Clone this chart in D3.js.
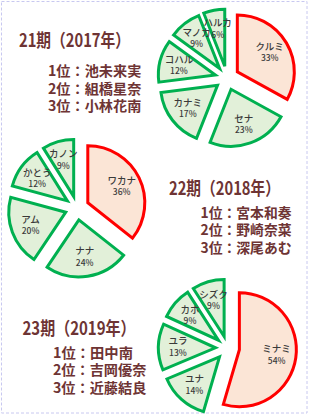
<!DOCTYPE html>
<html>
<head>
<meta charset="utf-8">
<script src="https://cdn.jsdelivr.net/npm/d3@7"></script>
<style>
  body { margin: 0; background: #fff; }
  svg { display: block; }
</style>
</head>
<body>
<svg class="Chart"></svg>
<script>
// members per generation, clockwise from 12 o'clock
let names21 = ["クルミ", "セナ", "カナミ", "コハル", "マノカ", "ハルカ"],
    vals21  = [33, 23, 17, 12, 9, 6];
let names22 = ["ワカナ", "ナナ", "アム", "かとう", "カノン"],
    vals22  = [36, 24, 20, 12, 9];
let names23 = ["ミナミ", "ユナ", "ユラ", "カホ", "シズク"],
    vals23  = [54, 14, 13, 9, 9];

let titles = ["21期（2017年）", "22期（2018年）", "23期（2019年）"];
let ranks = [
    ["1位：池未来実", "2位：組橋星奈", "3位：小林花南"],
    ["1位：宮本和奏", "2位：野崎奈菜", "3位：深尾あむ"],
    ["1位：田中南", "2位：吉岡優奈", "3位：近藤結良"]
];

function ChartInit(){
    let width = 310, height = 418;
    let svg = d3.select(".Chart")
        .attr("width", width)
        .attr("height", height);
    svg.append("rect")
        .attr("x", 1.5).attr("y", 1.5)
        .attr("width", 305.5).attr("height", 411.5)
        .style("fill", "none")
        .style("stroke", "#c8c8f0")
        .style("stroke-width", 1)
        .style("stroke-dasharray", "3,2");
    return svg;
}

function drawPie(svg, names, vals, cx, cy){
    let r = 57, gap = 12;
    let pie = d3.pie().sort(null).value(d => d)(vals);
    let arc = d3.arc().innerRadius(0).outerRadius(r);
    let g = svg.append("g").attr("transform", "translate(" + cx + "," + cy + ")");

    let slice = g.selectAll(".slice")
        .data(pie)
        .join("g")
        .attr("class", "slice")
        .attr("transform", function(d) {
            let a = (d.startAngle + d.endAngle) / 2;
            return "translate(" + (Math.sin(a) * gap) + "," + (-Math.cos(a) * gap) + ")";
        });

    slice.append("path")
        .attr("d", arc)
        .style("fill", (d, i) => i == 0 ? "#fbe5d6" : "#e2f0d9")
        .style("stroke", (d, i) => i == 0 ? "#ff0000" : "#00b050")
        .style("stroke-width", 3)
        .style("stroke-linejoin", "miter");

    let lab = g.selectAll(".lab")
        .data(pie)
        .join("text")
        .attr("class", "lab")
        .attr("transform", function(d) {
            let a = (d.startAngle + d.endAngle) / 2, k = gap + r * 0.66;
            return "translate(" + (Math.sin(a) * k) + "," + (-Math.cos(a) * k) + ")";
        })
        .attr("text-anchor", "middle")
        .style("font-family", "'Noto Sans CJK JP', sans-serif")
        .style("font-weight", 500)
        .style("fill", "#3a3a3a");
    lab.append("tspan")
        .attr("x", 0).attr("dy", "-0.3em")
        .style("font-size", "9.5px")
        .text((d, i) => names[i]);
    lab.append("tspan")
        .attr("x", 0).attr("dy", "1.35em")
        .style("font-size", "8.5px")
        .text(d => d.value + "%");
}

function drawText(svg, title, lines, tx, tw, ty, rx, rw, ry){
    svg.append("text")
        .attr("x", tx).attr("y", ty)
        .attr("textLength", tw)
        .attr("lengthAdjust", "spacingAndGlyphs")
        .style("font-family", "'Noto Sans CJK JP', sans-serif")
        .style("font-weight", "bold")
        .style("font-size", "18px")
        .style("fill", "#6e3434")
        .text(title);
    lines.forEach(function(s, i){
        svg.append("text")
            .attr("x", rx).attr("y", ry + i * 17.6)
            .attr("textLength", rw * s.length / 6)
            .attr("lengthAdjust", "spacingAndGlyphs")
            .style("font-family", "'Noto Sans CJK JP', sans-serif")
            .style("font-weight", "bold")
            .style("font-size", "14px")
            .style("fill", "#6e3434")
            .text(s);
    });
}

function main(){
    let svg = ChartInit();
    drawPie(svg, names21, vals21, 227, 78);
    drawPie(svg, names22, vals22, 77, 208);
    drawPie(svg, names23, vals23, 227.5, 348);
    drawText(svg, titles[0], ranks[0], 19, 111, 47, 48, 80, 76);
    drawText(svg, titles[1], ranks[1], 169, 111, 195, 200.5, 78, 217.5);
    drawText(svg, titles[2], ranks[2], 22.5, 113, 335, 53, 80, 357.5);
}

main();
</script>
</body>
</html>
